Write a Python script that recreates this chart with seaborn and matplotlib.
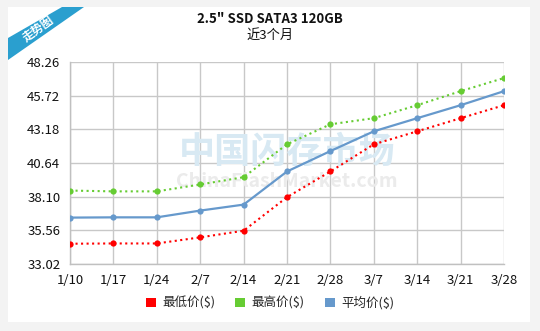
import matplotlib
matplotlib.use("Agg")
import matplotlib.pyplot as plt
import seaborn as sns
import pandas as pd
from matplotlib.patches import Rectangle, Polygon

dates = ["1/10", "1/17", "1/24", "2/7", "2/14", "2/21", "2/28", "3/7", "3/14", "3/21", "3/28"]
low = [34.55, 34.57, 34.57, 35.03, 35.53, 38.06, 40.0, 42.05, 43.03, 44.02, 45.0]
high = [38.56, 38.5, 38.5, 39.02, 39.57, 42.05, 43.56, 44.02, 45.0, 46.06, 47.05]
avg = [36.52, 36.54, 36.54, 37.05, 37.5, 40.0, 41.54, 43.03, 44.02, 45.0, 46.06]
yticks = [33.02, 35.56, 38.10, 40.64, 43.18, 45.72, 48.26]
names = ["最低价($)", "最高价($)", "平均价($)"]
colors = ["#ff0000", "#66cc33", "#6699cc"]
title = '2.5" SSD SATA3 120GB'
subtitle = "近3个月"

sns.set_theme(style="white")
plt.rcParams["font.family"] = ["Noto Sans CJK SC", "DejaVu Sans"]

W, H = 540, 331
fig = plt.figure(figsize=(W / 100, H / 100), dpi=100)
fig.patch.set_facecolor("#f3f3f3")
# white card
fig.add_artist(Rectangle((8 / W, 1 - 322 / H), (530 - 8) / W, (322 - 7) / H,
                         transform=fig.transFigure, facecolor="white", edgecolor="none", zorder=0))
# ribbon
def P(x, y):
    return (x / W, 1 - y / H)
fig.add_artist(Polygon([P(8, 38), P(62, 7), P(84, 7), P(8, 60)], closed=True,
                       transform=fig.transFigure, facecolor="#2a9fcf", edgecolor="none", zorder=1))
fig.text(38 / W, 1 - 29 / H, "走势图", rotation=36, color="white", fontsize=8.5,
         fontweight="bold", ha="center", va="center", zorder=2)

fig.text(0.5, 1 - 19 / H, title, ha="center", va="center", fontsize=9.5, fontweight="bold", color="#111111")
fig.text(0.5, 1 - 35 / H, subtitle, ha="center", va="center", fontsize=9.5, color="#111111")

ax = fig.add_axes([70 / W, 1 - 264 / H, (504 - 70) / W, (264 - 62) / H])
ax.set_facecolor("none")

df = pd.DataFrame({"date": dates * 3,
                   "value": low + high + avg,
                   "series": [names[0]] * len(dates) + [names[1]] * len(dates) + [names[2]] * len(dates)})
df["x"] = list(range(len(dates))) * 3

# watermark
ax.text(0.5, 0.55, "中国闪存市场", transform=ax.transAxes, ha="center", va="center",
        fontsize=26, color="#d8e9f3", fontstyle="italic", fontweight="bold", zorder=1)
ax.text(0.5, 0.41, "ChinaFlashMarket.com", transform=ax.transAxes, ha="center", va="center",
        fontsize=14, color="#ebebeb", fontstyle="italic", fontweight="bold", zorder=1)

styles = {names[0]: ":", names[1]: ":", names[2]: "-"}
for name, col in zip(names, colors):
    sub = df[df["series"] == name]
    sns.lineplot(data=sub, x="x", y="value", ax=ax, color=col, marker="o", markersize=4.5,
                 markeredgewidth=0, linestyle=styles[name], linewidth=1.6 if name == names[2] else 1.5,
                 legend=False, zorder=3)

ax.set_xlim(0, len(dates) - 1)
ax.set_ylim(yticks[0], yticks[-1])
ax.set_xticks(range(len(dates)))
ax.set_xticklabels(dates)
ax.set_yticks(yticks)
ax.set_yticklabels([f"{v:.2f}" for v in yticks])
ax.grid(True, color="#c8c8c8", linewidth=1.0)
ax.set_axisbelow(True)
for s in ["top", "right"]:
    ax.spines[s].set_visible(False)
for s in ["left", "bottom"]:
    ax.spines[s].set_color("#c0c0c0")
    ax.spines[s].set_linewidth(1.0)
ax.tick_params(axis="both", which="both", length=5, width=1, color="#c0c0c0",
               labelsize=9.5, labelcolor="#111111", pad=2, direction="out")
ax.set_xlabel("")
ax.set_ylabel("")

handles = [Rectangle((0, 0), 1, 1, facecolor=c, edgecolor="none") for c in colors]
fig.legend(handles, names, loc="center", bbox_to_anchor=(0.5, 1 - 303 / H), ncol=3, frameon=False,
           fontsize=9, handlelength=0.8, handleheight=0.8, handletextpad=0.5, columnspacing=1.6)

fig.savefig("out.png", dpi=100, facecolor=fig.get_facecolor())
